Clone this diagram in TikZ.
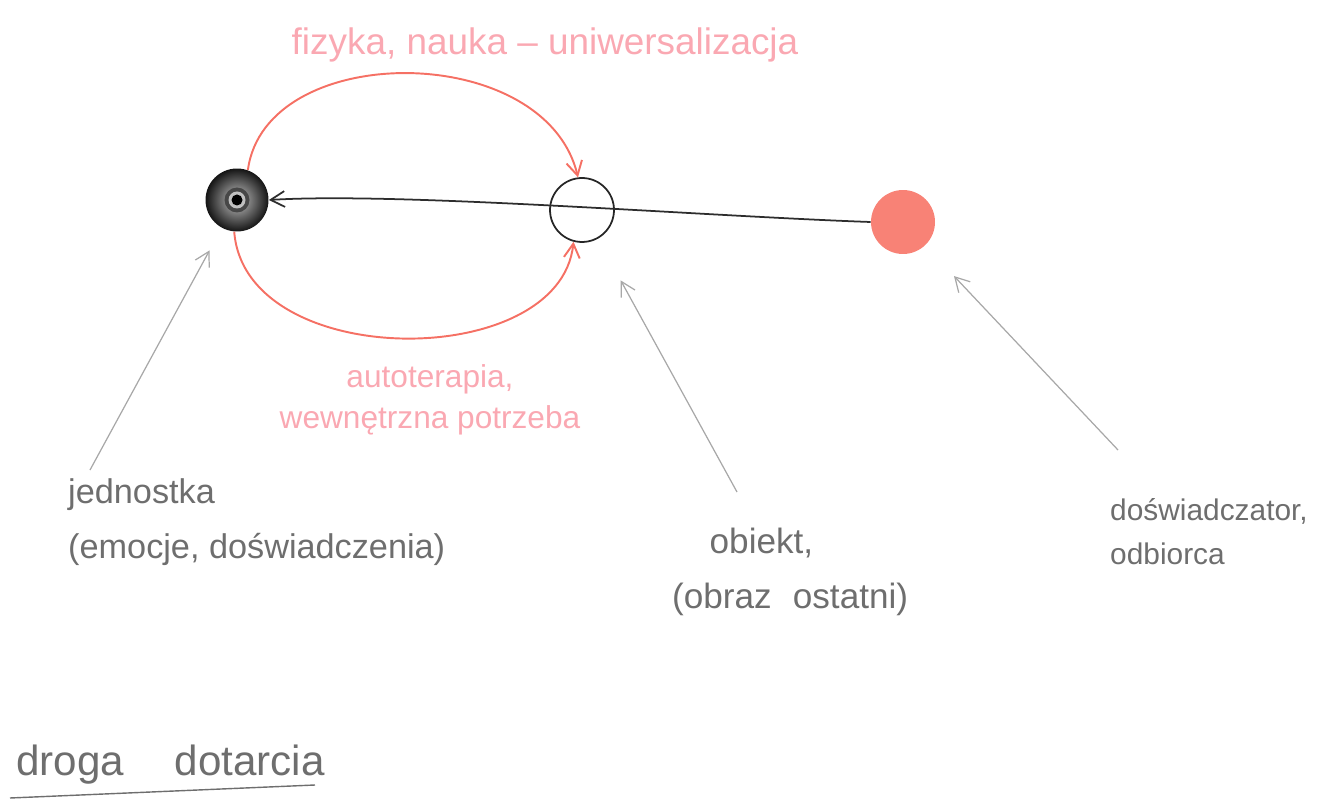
\documentclass[tikz,border=0pt]{standalone}
\usepackage{fontspec}
\setmainfont{Liberation Sans}
\usetikzlibrary{arrows.meta, positioning, shapes}
\definecolor{inkgray}{RGB}{110, 110, 110}
\definecolor{pencil}{RGB}{168, 168, 168}
\definecolor{redline}{RGB}{245, 112, 100}
\definecolor{pinktext}{RGB}{250, 168, 178}
\definecolor{redfill}{RGB}{248, 130, 118}
\definecolor{darkline}{RGB}{45, 45, 45}

\begin{document}
\begin{tikzpicture}[x=0.02cm, y=-0.02cm,
    lbl/.style={text=inkgray, font=\fontsize{19.5}{31}\selectfont, align=left},
    redlbl/.style={text=pinktext, font=\fontsize{18}{23}\selectfont, align=center},
    pointer/.style={-{Straight Barb[length=8pt, width=9pt]}, pencil, line width=0.7pt},
    orbit/.style={-{Straight Barb[length=8pt, width=9pt]}, redline, line width=1.1pt}]
\useasboundingbox (0,0) rectangle (1324,803);

% Circles
\node[circle, inner sep=0pt, minimum size=1.26cm] (jedn) at (237,200) {};
\shade[inner color=gray!45, outer color=black!92] (jedn) circle (0.63cm);
\fill[black!72] (jedn) circle (0.25cm);
\fill[gray!50] (jedn) circle (0.17cm);
\fill[black] (jedn) circle (0.11cm);
\node[circle, draw=black!85, line width=1pt, minimum size=1.28cm] (obj) at (582,210) {};
\node[circle, fill=redfill, minimum size=1.28cm] (odb) at (903,222) {};

% Path of the work
\draw[darkline, line width=1pt, -{Straight Barb[length=8pt, width=9pt]}]
    (odb.west) .. controls (700,216) and (400,192) .. (jedn.east);
\draw[orbit] (jedn.70) .. controls (265,40) and (545,40) .. (obj.97);
\draw[orbit] (jedn.265) .. controls (245,372) and (560,372) .. (obj.255);

% Labels
\node[redlbl, font=\fontsize{21}{23}\selectfont] (fiz) at (545,45) {fizyka, nauka -- uniwersalizacja};
\node[redlbl] (auto) at (430,400) {autoterapia,\\wewnętrzna potrzeba};
\node[lbl, anchor=west] (jlab) at (62,522) {jednostka\\(emocje, doświadczenia)};
\node[lbl, anchor=west, font=\fontsize{20}{31}\selectfont] (olab) at (666,572)
    {\hspace*{0.75cm}obiekt,\\(obraz\hspace{0.6em}ostatni)};
\node[lbl, anchor=west, font=\fontsize{17}{25}\selectfont] (dlab) at (1104,532) {doświadczator,\\odbiorca};
\node[lbl, anchor=west, font=\fontsize{24}{23}\selectfont] (title) at (10,765) {droga\hspace{1.2em}dotarcia};
\draw[inkgray, line width=0.8pt] (10,798) -- (315,785);

% Pointers
\coordinate (jfoot) at (90,470);
\coordinate (ofoot) at (737,492);
\coordinate (dfoot) at (1118,450);
\draw[pointer, shorten >=0.51cm] (jfoot) -- (jedn);
\draw[pointer, shorten >=0.95cm] (ofoot) -- (obj);
\draw[pointer, shorten >=0.84cm] (dfoot) -- (odb);
\end{tikzpicture}
\end{document}
